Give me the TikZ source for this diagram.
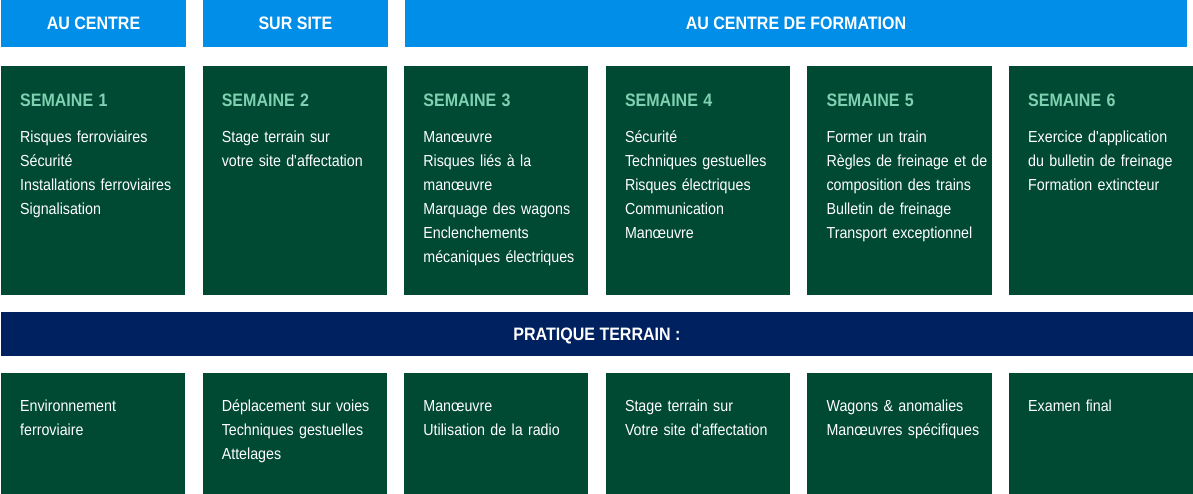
\documentclass[tikz,border=0pt]{standalone}
\usepackage{fontspec}
\setmainfont{Liberation Sans}[FakeStretch=0.89]
\usepackage{xcolor}
\usepackage{tikz}
\usetikzlibrary{positioning}
\definecolor{skyblue}{HTML}{008EE9}
\definecolor{pinegreen}{HTML}{004932}
\definecolor{navyband}{HTML}{00215F}
\definecolor{mint}{HTML}{80D0B2}
\tikzstyle{header} = [rectangle, minimum width=184.2pt, minimum height=47pt, inner sep=0pt, outer sep=0pt, text depth=0pt, fill=skyblue, text=white, font=\bfseries\fontsize{18}{22}\selectfont]
\tikzstyle{band} = [header, fill=navyband, minimum width=1192pt, minimum height=44pt]
\tikzstyle{week} = [rectangle, minimum width=184.2pt, minimum height=228.5pt, inner sep=0pt, outer sep=0pt, fill=pinegreen]
\tikzstyle{field} = [week, minimum height=121pt]
\tikzstyle{weektext} = [text width=166pt, align=left, inner sep=0pt, text=white, font=\fontsize{16}{24}\selectfont]
\newcommand{\semaine}[1]{{\bfseries\fontsize{18}{24}\selectfont\color{mint}#1}\\[12pt]}

\begin{document}
\begin{tikzpicture}[node distance=17.4pt]
            \useasboundingbox (0pt,0pt) rectangle (1193pt,-494pt);
            % Header row
            \node[header, minimum width=185pt, anchor=north west] (centre) at (1pt,0pt) {AU CENTRE};
            \node[header, right=of centre] (site) {SUR SITE};
            \node[header, minimum width=782pt, right=of site] (formation) {AU CENTRE DE FORMATION};
            % Weeks
            \node[week, anchor=north west] (week1) at (1pt,-66pt) {};
            \node[week, right=of week1] (week2) {};
            \node[week, right=of week2] (week3) {};
            \node[week, right=of week3] (week4) {};
            \node[week, right=of week4] (week5) {};
            \node[week, right=of week5] (week6) {};
            \node[weektext, below right=41pt and 19pt of week1.north west, anchor=base west] (text1) {\semaine{SEMAINE 1}Risques ferroviaires\\Sécurité\\Installations ferroviaires\\Signalisation};
            \node[weektext, below right=41pt and 19pt of week2.north west, anchor=base west] (text2) {\semaine{SEMAINE 2}Stage terrain sur\\votre site d\textquotesingle affectation};
            \node[weektext, below right=41pt and 19pt of week3.north west, anchor=base west] (text3) {\semaine{SEMAINE 3}Manœuvre\\Risques liés à la\\manœuvre\\Marquage des wagons\\Enclenchements\\mécaniques électriques};
            \node[weektext, below right=41pt and 19pt of week4.north west, anchor=base west] (text4) {\semaine{SEMAINE 4}Sécurité\\Techniques gestuelles\\Risques électriques\\Communication\\Manœuvre};
            \node[weektext, below right=41pt and 19pt of week5.north west, anchor=base west] (text5) {\semaine{SEMAINE 5}Former un train\\Règles de freinage et de\\composition des trains\\Bulletin de freinage\\Transport exceptionnel};
            \node[weektext, below right=41pt and 19pt of week6.north west, anchor=base west] (text6) {\semaine{SEMAINE 6}Exercice d\textquotesingle application\\du bulletin de freinage\\Formation extincteur};
            % Band
            \node[band, anchor=north west] (pratique) at (1pt,-312pt) {PRATIQUE TERRAIN :};
            % Bottom row
            \node[field, anchor=north west] (field1) at (1pt,-373pt) {};
            \node[field, right=of field1] (field2) {};
            \node[field, right=of field2] (field3) {};
            \node[field, right=of field3] (field4) {};
            \node[field, right=of field4] (field5) {};
            \node[field, right=of field5] (field6) {};
            \node[weektext, below right=38.5pt and 19pt of field1.north west, anchor=base west] (item1) {Environnement\\ferroviaire};
            \node[weektext, below right=38.5pt and 19pt of field2.north west, anchor=base west] (item2) {Déplacement sur voies\\Techniques gestuelles\\Attelages};
            \node[weektext, below right=38.5pt and 19pt of field3.north west, anchor=base west] (item3) {Manœuvre\\Utilisation de la radio};
            \node[weektext, below right=38.5pt and 19pt of field4.north west, anchor=base west] (item4) {Stage terrain sur\\Votre site d\textquotesingle affectation};
            \node[weektext, below right=38.5pt and 19pt of field5.north west, anchor=base west] (item5) {Wagons \& anomalies\\Manœuvres spécifiques};
            \node[weektext, below right=38.5pt and 19pt of field6.north west, anchor=base west] (item6) {Examen final};
        \end{tikzpicture}
\end{document}
